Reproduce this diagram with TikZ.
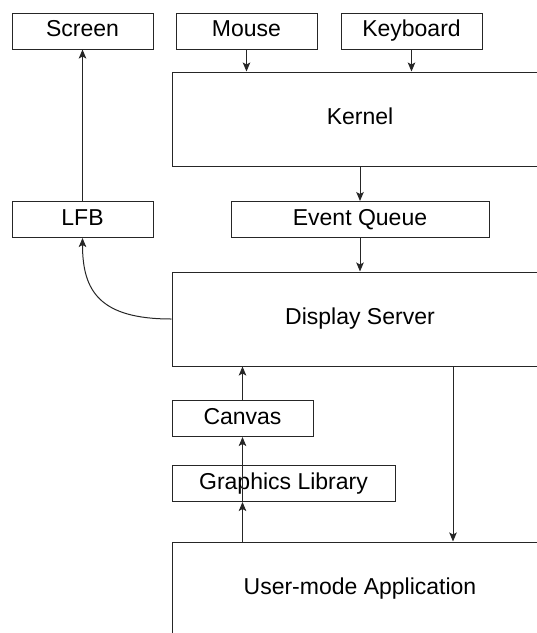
\documentclass[tikz,border=0pt]{standalone}
\usepackage{fontspec}
\setmainfont{Liberation Sans}
\usetikzlibrary{arrows.meta}
\begin{document}
\begin{tikzpicture}[x=1pt,y=-1pt,
  box/.style={draw=black!85,line width=1pt,minimum height=36pt,inner sep=0pt,
    text height=16.6pt,text depth=4.8pt,
    font=\fontsize{23}{27}\selectfont},
  small/.style={box,minimum width=141pt},
  big/.style={box,minimum width=376pt,minimum height=94pt},
  arr/.style={draw=black!85,line width=1pt,-{Stealth[length=9pt,width=7.5pt,inset=2pt]}}]
\path[use as bounding box,clip] (0,0) rectangle (537,633);
\node[small] (screen) at (82.5,31) {Screen};
\node[small] (mouse) at (246.5,31) {Mouse};
\node[small] (keyboard) at (411.5,31) {Keyboard};
\node[big] (kernel) at (360,119) {Kernel};
\node[small] (lfb) at (82.5,219.5) {LFB};
\node[box,minimum width=258pt] (eq) at (360,219.5) {Event Queue};
\node[big] (ds) at (360,319) {Display Server};
\node[small] (canvas) at (242.5,418.5) {Canvas};
\node[box,minimum width=223pt] (gl) at (283.5,483.5) {Graphics Library};
\node[big] (ua) at (360,589) {User-mode Application};
\coordinate (dsout) at (453,366);
\draw[arr] (mouse.south) -- (mouse.south |- kernel.north);
\draw[arr] (keyboard.south) -- (keyboard.south |- kernel.north);
\draw[arr] (kernel.south -| eq.north) -- (eq.north);
\draw[arr] (eq.south) -- (eq.south |- ds.north);
\draw[arr] (lfb.north) -- (screen.south);
\draw[arr] (ds.west) .. controls +(-72,0) and +(0,53) .. (lfb.south);
\draw[arr] (canvas.north) -- (canvas.north |- ds.south);
\draw[arr] (gl.south -| canvas.south) -- (canvas.south);
\draw[arr] (ua.north -| canvas.south) -- (gl.south -| canvas.south);
\draw[arr] (dsout) -- (dsout |- ua.north);
\end{tikzpicture}
\end{document}
